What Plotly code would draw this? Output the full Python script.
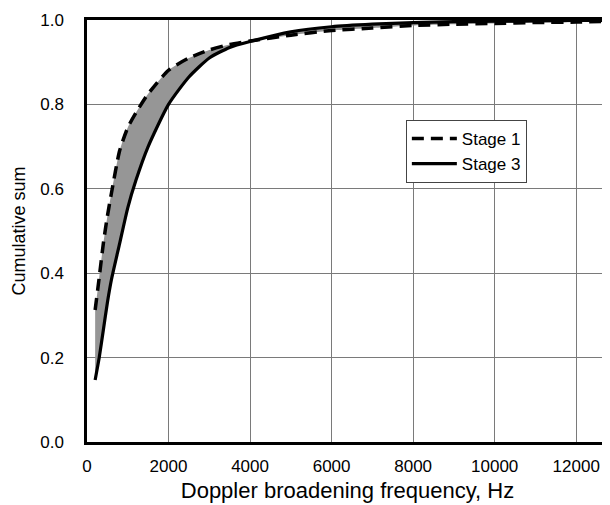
import plotly.graph_objects as go

freq = [200, 300, 400, 500, 600, 800, 1000, 1200, 1500, 2000, 2500, 3000, 3500,
        4000, 5000, 6000, 7000, 8000, 9000, 10000, 11000, 12000, 12780]
stage1 = [0.313, 0.39, 0.47, 0.535, 0.59, 0.69, 0.745, 0.78, 0.825, 0.881, 0.91,
          0.929, 0.942, 0.95, 0.964, 0.975, 0.981, 0.987, 0.990, 0.992, 0.994, 0.995, 0.997]
stage3 = [0.147, 0.20, 0.265, 0.33, 0.385, 0.47, 0.555, 0.62, 0.70, 0.80, 0.865,
          0.91, 0.935, 0.949, 0.972, 0.984, 0.990, 0.994, 0.996, 0.997, 0.998, 0.999, 0.999]

x_ticks = [0, 2000, 4000, 6000, 8000, 10000, 12000]
y_ticks = [0.0, 0.2, 0.4, 0.6, 0.8, 1.0]

spline = dict(shape="spline", smoothing=0.6)

fig = go.Figure()
# Stage 3 solid line
fig.add_trace(go.Scatter(
    x=freq, y=stage3, mode="lines", name="Stage 3",
    line=dict(color="black", width=3.2, **spline),
    legendrank=2,
))
# gray band between the two curves (no legend entry)
fig.add_trace(go.Scatter(
    x=freq, y=stage1, mode="lines", showlegend=False, hoverinfo="skip",
    line=dict(color="rgba(0,0,0,0)", width=0, **spline),
    fill="tonexty", fillcolor="#969696",
))
# Stage 1 dashed line
fig.add_trace(go.Scatter(
    x=freq, y=stage1, mode="lines", name="Stage 1",
    line=dict(color="black", width=3.5, dash="12px,7px", **spline),
    legendrank=1,
))

font_family = "Liberation Sans, Arial, sans-serif"

# page body has an 8px margin, so the figure is sized to fit the 610x505 window
fig.update_layout(
    width=602, height=497,
    margin=dict(l=79, r=2, t=12, b=63),
    paper_bgcolor="white", plot_bgcolor="white",
    font=dict(family=font_family, color="black"),
    showlegend=True,
    legend=dict(
        x=0.612, y=0.763, xanchor="left", yanchor="top",
        bgcolor="white", bordercolor="#444", borderwidth=1,
        font=dict(size=17, family=font_family),
        traceorder="normal", itemwidth=45, tracegroupgap=0,
    ),
    xaxis=dict(
        range=[0, 12780], tickvals=x_ticks, tickformat="d",
        showgrid=True, gridcolor="#7a7a7a", gridwidth=1,
        showline=True, linecolor="black", linewidth=2.5, mirror=True,
        ticks="", ticklabelstandoff=7, zeroline=False, automargin=False,
        tickfont=dict(size=17, family=font_family),
        title=dict(text="Doppler broadening frequency, Hz", font=dict(size=22), standoff=8),
    ),
    yaxis=dict(
        range=[0, 1], tickvals=y_ticks, tickformat=".1f",
        showgrid=True, gridcolor="#7a7a7a", gridwidth=1,
        showline=True, linecolor="black", linewidth=2.5, mirror=True,
        ticks="", ticklabelstandoff=17, zeroline=False, automargin=False,
        tickfont=dict(size=17, family=font_family),
        title=dict(text="Cumulative sum", font=dict(size=18), standoff=10),
    ),
)

fig.write_html("out.html")
